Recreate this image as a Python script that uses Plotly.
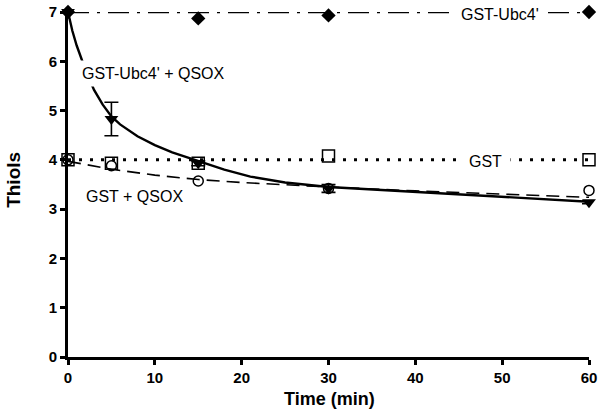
import plotly.graph_objects as go

# Measured data
time = [0, 5, 15, 30, 60]
gst_ubc4 = [7.0, 7.03, 6.87, 6.93, 7.0]
gst_ubc4_qsox = [7.0, 4.83, 3.93, 3.42, 3.14]
gst_ubc4_qsox_err = [0.0, 0.34, 0.05, 0.08, 0.03]
gst = [4.0, 3.93, 3.93, 4.08, 4.0]
gst_qsox = [4.0, 3.88, 3.57, 3.42, 3.38]

# Fitted / mean lines
flat_x = [0, 60]
gst_ubc4_mean = [7.0, 7.0]
gst_mean = [4.0, 4.0]
fit1_x = [0, 0.5, 1, 1.5, 2, 3, 4, 5, 6, 8, 10, 12, 15, 18, 21, 25, 30, 35, 40, 45, 50, 55, 60]
fit1_y = [7.0, 6.62, 6.32, 6.06, 5.83, 5.42, 5.12, 4.88, 4.72, 4.48, 4.30, 4.15, 3.97,
          3.80, 3.66, 3.54, 3.45, 3.40, 3.35, 3.30, 3.25, 3.20, 3.15]
fit2_x = [0, 5, 10, 15, 20, 25, 30, 40, 50, 60]
fit2_y = [3.97, 3.81, 3.69, 3.60, 3.54, 3.49, 3.45, 3.37, 3.30, 3.24]

x_ticks = [0, 10, 20, 30, 40, 50, 60]
y_ticks = [0, 1, 2, 3, 4, 5, 6, 7]

FONT = "Liberation Sans, Arial, sans-serif"

fig = go.Figure()

# lines
fig.add_trace(go.Scatter(x=flat_x, y=gst_ubc4_mean, mode="lines",
                         line=dict(color="black", width=2.6, dash="21px,8px,3px,8px"),
                         hoverinfo="skip", cliponaxis=False))
fig.add_trace(go.Scatter(x=flat_x, y=gst_mean, mode="lines",
                         line=dict(color="black", width=3, dash="3px,8px"),
                         hoverinfo="skip", cliponaxis=False))
fig.add_trace(go.Scatter(x=fit2_x, y=fit2_y, mode="lines",
                         line=dict(color="black", width=1.6, dash="13px,7px"),
                         hoverinfo="skip", cliponaxis=False))
fig.add_trace(go.Scatter(x=fit1_x, y=fit1_y, mode="lines",
                         line=dict(color="black", width=2.4),
                         hoverinfo="skip", cliponaxis=False))

# markers
fig.add_trace(go.Scatter(x=time, y=gst, mode="markers",
                         marker=dict(symbol="square-open", size=12, color="black",
                                     line=dict(width=1.5)), cliponaxis=False))
fig.add_trace(go.Scatter(x=time, y=gst_qsox, mode="markers",
                         marker=dict(symbol="circle-open", size=10, color="black",
                                     line=dict(width=1.5)), cliponaxis=False))
fig.add_trace(go.Scatter(x=time, y=gst_ubc4, mode="markers",
                         marker=dict(symbol="diamond", size=11, color="black"),
                         cliponaxis=False))
fig.add_trace(go.Scatter(x=time, y=gst_ubc4_qsox, mode="markers",
                         marker=dict(symbol="triangle-down", size=12, color="black"),
                         error_y=dict(type="data", array=gst_ubc4_qsox_err, color="black",
                                      thickness=1.6, width=7),
                         cliponaxis=False))

ann_font = dict(family=FONT, size=16, color="black")
fig.add_annotation(x=9.9, y=5.76, text="GST-Ubc4' + QSOX", showarrow=False,
                   font=ann_font, bgcolor="white", borderpad=4)
fig.add_annotation(x=7.7, y=3.26, text="GST + QSOX", showarrow=False,
                   font=ann_font, bgcolor="white", borderpad=3)
fig.add_annotation(x=48.1, y=3.97, text="GST", showarrow=False,
                   font=ann_font, bgcolor="white", borderpad=8)
fig.add_annotation(x=49.8, y=6.95, text="GST-Ubc4'", showarrow=False,
                   font=ann_font, bgcolor="white", borderpad=8)

# axis titles
fig.add_annotation(xref="paper", yref="paper", x=0.501, y=-0.1226, text="Time (min)",
                   showarrow=False, xanchor="center", yanchor="middle",
                   font=dict(family=FONT, size=18, color="black", weight="bold"))
fig.add_annotation(xref="paper", yref="paper", x=-0.1046, y=0.512, text="Thiols",
                   showarrow=False, xanchor="center", yanchor="middle", textangle=-90,
                   font=dict(family=FONT, size=19, color="black", weight="bold"))

axis_common = dict(showline=True, linecolor="black", linewidth=2.6, ticks="outside",
                   ticklen=5, tickwidth=2.6, tickcolor="black", showgrid=False,
                   zeroline=False, automargin=False,
                   tickfont=dict(family=FONT, size=15, color="black", weight="bold"))

fig.update_xaxes(range=[0, 60], tickvals=x_ticks, **axis_common)
fig.update_yaxes(range=[0, 7], tickvals=y_ticks, **axis_common)

fig.update_layout(width=604, height=416, showlegend=False,
                  margin=dict(l=68, r=15, t=12, b=59),
                  plot_bgcolor="white", paper_bgcolor="white")

fig.write_html("out.html", config={"displayModeBar": False},
               post_script="document.body.style.margin='0';document.body.style.overflow='hidden';")
